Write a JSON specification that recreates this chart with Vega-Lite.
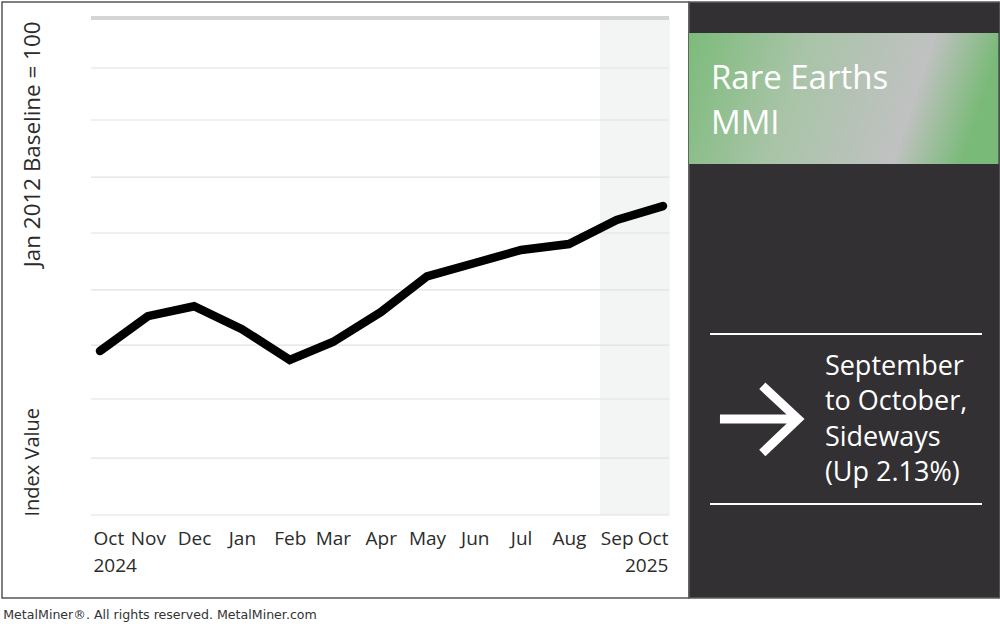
{
  "$schema": "https://vega.github.io/schema/vega-lite/v6.json",
  "description": "Rare Earths MMI, Oct 2024 - Oct 2025.",
  "padding": {"left": 1, "top": 1, "right": 0, "bottom": 0},
  "background": "white",
  "spacing": 0,
  "bounds": "flush",
  "title": {
    "text": "MetalMiner®. All rights reserved. MetalMiner.com",
    "orient": "bottom",
    "anchor": "start",
    "font": "DejaVu Sans",
    "fontSize": 12.6,
    "fontWeight": "normal",
    "color": "#333333",
    "offset": 10,
    "dx": 2
  },
  "hconcat": [
    {
      "width": 687,
      "height": 596,
      "view": {"fill": "white", "stroke": "#555555", "strokeWidth": 1.5},
      "resolve": {"axis": {"y": "independent"}},
      "layer": [
        {
          "data": {"values": [{}]},
          "mark": {"type": "rect", "color": "#f3f5f4"},
          "encoding": {
            "x": {"datum": {"year": 2025, "month": 8, "date": 21, "hours": 4}, "type": "temporal"},
            "x2": {"datum": {"year": 2025, "month": 10, "date": 5, "hours": 13}},
            "y": {
              "datum": 86,
              "type": "quantitative",
              "axis": {
                "orient": "left",
                "title": "Index Value",
                "titleX": 30,
                "titleY": 514,
                "titleAngle": -90,
                "titleAlign": "left",
                "titleBaseline": "middle",
                "titleFont": "Open Sans",
                "titleFontSize": 20,
                "titleFontWeight": "normal",
                "titleColor": "#2b2b2b",
                "labels": false,
                "ticks": false,
                "domain": false,
                "grid": false
              }
            },
            "y2": {"datum": 36}
          }
        },
        {
          "data": {
            "values": [
              {"v": 36}, {"v": 41.73}, {"v": 47.67}, {"v": 53.1}, {"v": 58.64},
              {"v": 64.37}, {"v": 70}, {"v": 75.74}, {"v": 80.97}, {"v": 86}
            ]
          },
          "mark": {"type": "rule"},
          "encoding": {
            "x": {"datum": {"year": 2024, "month": 9, "date": 25, "hours": 4}, "type": "temporal"},
            "x2": {"datum": {"year": 2025, "month": 10, "date": 4, "hours": 21}},
            "y": {"field": "v", "type": "quantitative", "axis": null},
            "color": {
              "condition": {"test": "datum.v >= 86", "value": "#d4d4d4"},
              "value": "#e1e1e1"
            },
            "strokeWidth": {
              "condition": {"test": "datum.v >= 86", "value": 4},
              "value": 1.2
            }
          }
        },
        {
          "data": {
            "values": [
              {"date": "2024-10-01T00:00:00", "value": 52.5},
              {"date": "2024-11-01T00:00:00", "value": 56.0},
              {"date": "2024-12-01T00:00:00", "value": 57.0},
              {"date": "2025-01-01T00:00:00", "value": 54.7},
              {"date": "2025-02-01T00:00:00", "value": 51.6},
              {"date": "2025-03-01T00:00:00", "value": 53.4},
              {"date": "2025-04-01T00:00:00", "value": 56.4},
              {"date": "2025-05-01T00:00:00", "value": 60.0},
              {"date": "2025-06-01T00:00:00", "value": 61.35},
              {"date": "2025-07-01T00:00:00", "value": 62.66},
              {"date": "2025-08-01T00:00:00", "value": 63.26},
              {"date": "2025-09-01T00:00:00", "value": 65.68},
              {"date": "2025-10-01T00:00:00", "value": 67.08}
            ]
          },
          "mark": {"type": "line", "color": "#000000", "strokeWidth": 8.5, "strokeCap": "round", "strokeJoin": "miter"},
          "encoding": {
            "x": {
              "field": "date",
              "type": "temporal",
              "scale": {
                "domain": [
                  {"year": 2024, "month": 7, "date": 29, "hours": 11},
                  {"year": 2025, "month": 10, "date": 17, "hours": 21}
                ],
                "nice": false
              },
              "axis": {
                "orient": "bottom",
                "offset": -83,
                "title": null,
                "values": [
                  {"year": 2024, "month": 10, "date": 1},
                  {"year": 2024, "month": 11, "date": 1},
                  {"year": 2024, "month": 12, "date": 1},
                  {"year": 2025, "month": 1, "date": 1},
                  {"year": 2025, "month": 2, "date": 1},
                  {"year": 2025, "month": 3, "date": 1},
                  {"year": 2025, "month": 4, "date": 1},
                  {"year": 2025, "month": 5, "date": 1},
                  {"year": 2025, "month": 6, "date": 1},
                  {"year": 2025, "month": 7, "date": 1},
                  {"year": 2025, "month": 8, "date": 1},
                  {"year": 2025, "month": 9, "date": 1},
                  {"year": 2025, "month": 10, "date": 1}
                ],
                "labelExpr": "month(datum.value) == 9 ? [timeFormat(datum.value, '%b'), timeFormat(datum.value, '%Y')] : timeFormat(datum.value, '%b')",
                "labelAlign": {
                  "condition": [
                    {"test": "year(datum.value) == 2024 && month(datum.value) == 9", "value": "left"},
                    {"test": "year(datum.value) == 2025 && month(datum.value) == 9", "value": "right"}
                  ],
                  "value": "center"
                },
                "labelOffset": {
                  "condition": [
                    {"test": "year(datum.value) == 2024 && month(datum.value) == 9", "value": -7},
                    {"test": "year(datum.value) == 2025 && month(datum.value) == 9", "value": 5}
                  ],
                  "value": 0
                },
                "labelFont": "Open Sans",
                "labelFontSize": 19,
                "labelColor": "#2b2b2b",
                "labelPadding": 14,
                "labelLineHeight": 27,
                "labelOverlap": false,
                "ticks": false,
                "domain": false,
                "grid": false
              }
            },
            "y": {
              "field": "value",
              "type": "quantitative",
              "scale": {"domain": [27.65, 87.61], "nice": false, "zero": false},
              "axis": {
                "orient": "left",
                "title": "Jan 2012 Baseline = 100",
                "titleX": 30,
                "titleY": 19,
                "titleAngle": -90,
                "titleAlign": "right",
                "titleBaseline": "middle",
                "titleFont": "Open Sans",
                "titleFontSize": 22.4,
                "titleFontWeight": "normal",
                "titleColor": "#2b2b2b",
                "labels": false,
                "ticks": false,
                "domain": false,
                "grid": false
              }
            }
          }
        }
      ]
    },
    {
      "width": 311,
      "height": 596,
      "view": {"fill": "#323032", "stroke": "#5c5c5c", "strokeWidth": 1.5},
      "data": {"values": [{}]},
      "layer": [
        {
          "mark": {
            "type": "rect",
            "fill": {
              "gradient": "linear",
              "x1": 0, "y1": 0, "x2": 1, "y2": 0.14,
              "stops": [
                {"offset": 0, "color": "#7cbb7a"},
                {"offset": 0.38, "color": "#a8c4a7"},
                {"offset": 0.78, "color": "#c0c1c1"},
                {"offset": 1, "color": "#7aba78"}
              ]
            }
          },
          "encoding": {
            "x": {"datum": 0, "type": "quantitative", "scale": {"domain": [0, 100]}, "axis": null},
            "x2": {"datum": 99.5},
            "y": {"datum": 5.2, "type": "quantitative", "scale": {"domain": [0, 100], "reverse": true}, "axis": null},
            "y2": {"datum": 27.2}
          }
        },
        {
          "mark": {
            "type": "text",
            "text": ["Rare Earths", "MMI"],
            "align": "left",
            "baseline": "top",
            "font": "Open Sans",
            "fontSize": 33,
            "lineHeight": 45,
            "color": "white"
          },
          "encoding": {
            "x": {"datum": 7.07, "type": "quantitative"},
            "y": {"datum": 10.2, "type": "quantitative"}
          }
        },
        {
          "mark": {"type": "rule", "color": "white", "strokeWidth": 2},
          "encoding": {
            "x": {"datum": 6.75, "type": "quantitative"},
            "x2": {"datum": 94.2},
            "y": {"datum": 55.7, "type": "quantitative"}
          }
        },
        {
          "mark": {"type": "rule", "color": "white", "strokeWidth": 2},
          "encoding": {
            "x": {"datum": 6.75, "type": "quantitative"},
            "x2": {"datum": 94.2},
            "y": {"datum": 84.23, "type": "quantitative"}
          }
        },
        {
          "mark": {
            "type": "point",
            "shape": "M-1,0L0.88,0M0.02,-0.8L0.88,0L0.02,0.82",
            "size": 6889,
            "filled": false,
            "stroke": "white",
            "strokeWidth": 9,
            "strokeJoin": "miter",
            "strokeCap": "butt",
            "opacity": 1
          },
          "encoding": {
            "x": {"datum": 23.3, "type": "quantitative"},
            "y": {"datum": 69.97, "type": "quantitative"}
          }
        },
        {
          "mark": {
            "type": "text",
            "text": ["September", "to October,", "Sideways", "(Up 2.13%)"],
            "align": "left",
            "baseline": "top",
            "font": "Open Sans",
            "fontSize": 27,
            "lineHeight": 35.5,
            "color": "white"
          },
          "encoding": {
            "x": {"datum": 43.7, "type": "quantitative"},
            "y": {"datum": 59.0, "type": "quantitative"}
          }
        }
      ]
    }
  ],
  "config": {
    "view": {"stroke": null},
    "font": "Open Sans"
  }
}
